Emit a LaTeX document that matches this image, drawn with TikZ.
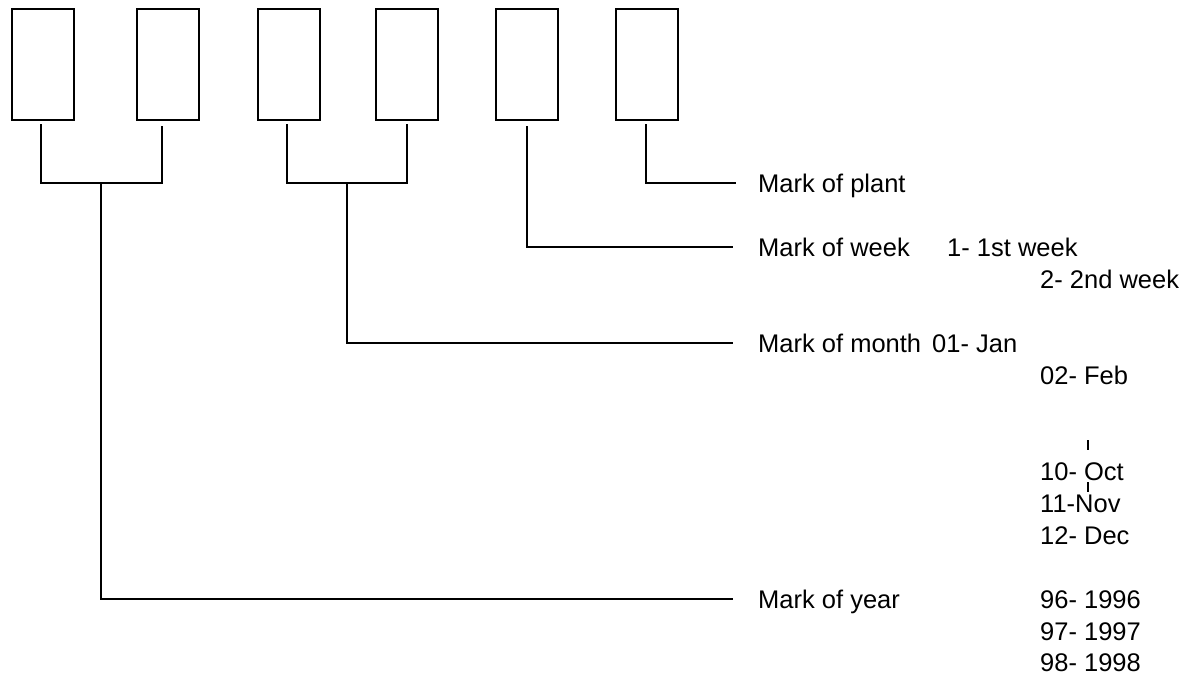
\documentclass[tikz,border=0pt]{standalone}
\usepackage{fontspec}
\setmainfont{Liberation Sans}
\begin{document}
\begin{tikzpicture}[x=1pt,y=-1pt,
  box/.style={draw,line width=2.2pt,minimum width=62pt,minimum height=111pt,inner sep=0pt,anchor=north west},
  conn/.style={line width=2pt},
  lbl/.style={anchor=base west,inner sep=0pt,font=\fontsize{25.5}{30}\selectfont}]
\useasboundingbox (0,0) rectangle (1186,675);
% boxes
\node[box] (b1) at (11,8) {};
\node[box] (b2) at (136,8) {};
\node[box] (b3) at (257,8) {};
\node[box] (b4) at (375,8) {};
\node[box] (b5) at (495,8) {};
\node[box] (b6) at (615,8) {};
% labels
\node[lbl] (plant) at (758,192) {Mark of plant};
\node[lbl] (week) at (758,256) {Mark of week};
\node[lbl] (w1) at (947,256) {1- 1st week};
\node[lbl] (w2) at (1040,288) {2- 2nd week};
\node[lbl] (month) at (758,352) {Mark of month};
\node[lbl] (m1) at (932,352) {01- Jan};
\node[lbl] (m2) at (1040,384) {02- Feb};
\node[lbl] (m10) at (1040,480) {10- Oct};
\node[lbl] (m11) at (1040,512) {11-Nov};
\node[lbl] (m12) at (1040,544) {12- Dec};
\node[lbl] (year) at (758,608) {Mark of year};
\node[lbl] (y96) at (1040,608) {96- 1996};
\node[lbl] (y97) at (1040,640) {97- 1997};
\node[lbl] (y98) at (1040,671) {98- 1998};
% junctions
\coordinate (jy) at (101,183);
\coordinate (jm) at (347,183);
% year pair
\draw[conn] ([xshift=-2pt,yshift=-3pt]b1.south) |- (jy) -| ([xshift=-6pt,yshift=-5pt]b2.south);
\draw[conn] (jy) |- ([xshift=-25pt,yshift=9pt]year.base west);
% month pair
\draw[conn] ([xshift=-2pt,yshift=-3pt]b3.south) |- (jm) -| ([yshift=-3pt]b4.south);
\draw[conn] (jm) |- ([xshift=-25pt,yshift=9pt]month.base west);
% week
\draw[conn] ([yshift=-5pt]b5.south) |- ([xshift=-25pt,yshift=9pt]week.base west);
% plant
\draw[conn] ([xshift=-1pt,yshift=-3pt]b6.south) |- ([xshift=-22pt,yshift=9pt]plant.base west);
% ellipsis marks
\draw[conn] (1088,440) -- (1088,450);
\draw[conn] (1088,482) -- (1088,492);
\end{tikzpicture}
\end{document}
